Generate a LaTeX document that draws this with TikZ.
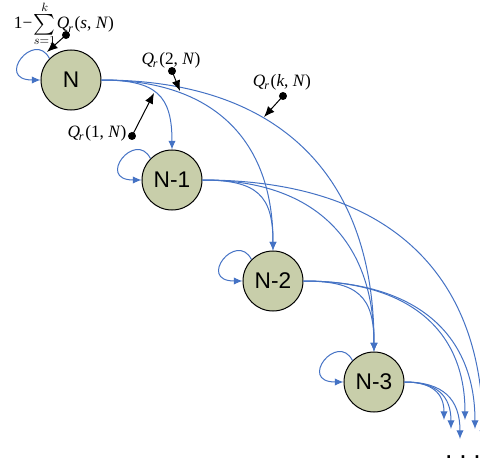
\documentclass[tikz,border=0pt]{standalone}
\usepackage{fontspec}
\setmainfont{Liberation Serif}
\newfontfamily\arialfont{Liberation Sans}
\usetikzlibrary{arrows.meta,calc}
\definecolor{edgeblue}{RGB}{68,114,196}
\definecolor{nodefill}{RGB}{200,206,170}
\newcommand{\Qlab}[1]{\textit{Q}\kern-0.8pt\raisebox{-0.45ex}{\fontsize{9}{9}\selectfont\textit{r}}\kern1.2pt(#1)}
\newcommand{\bigsumlim}{\mathop{\vcenter{\hbox{\scalebox{1.55}{$\sum$}}}}\limits_{s=1}^{k}}
\newcommand{\trarc}[3]{\draw[trans] let \p1=(#1.east), \p2=(#2) in (\p1) .. controls ({\x1+#3*(\x2-\x1)},\y1) and (\x2,{\y2+#3*(\y1-\y2)}) .. (\p2);}
\newcommand{\selfloop}[1]{\draw[trans] (#1.135) .. controls +(-15,-29) and +(-46,0) .. (#1.west);}
\begin{document}
\begin{tikzpicture}[x=0.75pt,y=-0.75pt,
  state/.style={circle,draw=black,line width=0.75pt,fill=nodefill,minimum size=45pt,inner sep=0pt,font=\arialfont\fontsize{17}{17}\selectfont},
  trans/.style={draw=edgeblue,line width=0.75pt,-{Latex[length=6.5pt,width=5.5pt]}},
  pointer/.style={draw=black,line width=0.75pt,-{Latex[length=8pt,width=6.5pt]}},
  qlabel/.style={font=\fontsize{13}{15}\selectfont,inner sep=0pt},
  dotmark/.style={circle,fill=black,inner sep=0pt,minimum size=6pt}]
\useasboundingbox (0,0) rectangle (480,464);
\clip (0,0) rectangle (480,464);

% states
\node[state] (n0) at (71,80) {N};
\node[state] (n1) at (172,180) {N-1};
\node[state] (n2) at (273,281) {N-2};
\node[state] (n3) at (374,382) {N-3};

% free ends of transitions beyond N-3
\coordinate (f31) at (444,420);
\coordinate (f32) at (451,429);
\coordinate (f33) at (460,439);
\coordinate (f21) at (465,420);
\coordinate (f22) at (475,429);
\coordinate (f11) at (483,439);

% self loops
\selfloop{n0}
\selfloop{n1}
\selfloop{n2}
\selfloop{n3}

% transitions
\trarc{n0}{n1.north}{0.78}
\trarc{n0}{n2.north}{0.65}
\trarc{n0}{n3.north}{0.65}
\trarc{n1}{n2.north}{0.78}
\trarc{n1}{n3.north}{0.65}
\trarc{n1}{f11}{0.65}
\trarc{n2}{n3.north}{0.78}
\trarc{n2}{f21}{0.65}
\trarc{n2}{f22}{0.65}
\trarc{n3}{f31}{0.7}
\trarc{n3}{f32}{0.7}
\trarc{n3}{f33}{0.7}

% labels and pointers
\node[qlabel,anchor=base] (lsum) at (64,28.5) {1−\kern1pt$\bigsumlim$\kern1pt\Qlab{\textit{s}, \textit{N}}};
\node[dotmark] (d0) at (66,35) {};
\coordinate (t0) at (47,52);
\draw[pointer] (d0.center) -- (t0);

\node[qlabel] (l2) at (171,60) {\Qlab{2, \textit{N}}};
\node[dotmark] (d2) at (172,71) {};
\coordinate (t2) at (180,91);
\draw[pointer] (d2.center) -- (t2);

\node[qlabel] (lk) at (282,82) {\Qlab{\textit{k}, \textit{N}}};
\node[dotmark] (dk) at (283,96) {};
\coordinate (tk) at (264,117);
\draw[pointer] (dk.center) -- (tk);

\node[qlabel] (l1) at (97,133) {\Qlab{1, \textit{N}}};
\node[dotmark] (d1) at (132,136) {};
\coordinate (t1) at (154,93);
\draw[pointer] (d1.center) -- (t1);

\node[font=\arialfont\fontsize{20}{20}\selectfont,inner sep=0pt,anchor=base] (dots) at (463,459) {.\kern5pt.\kern5pt.};
\end{tikzpicture}
\end{document}
